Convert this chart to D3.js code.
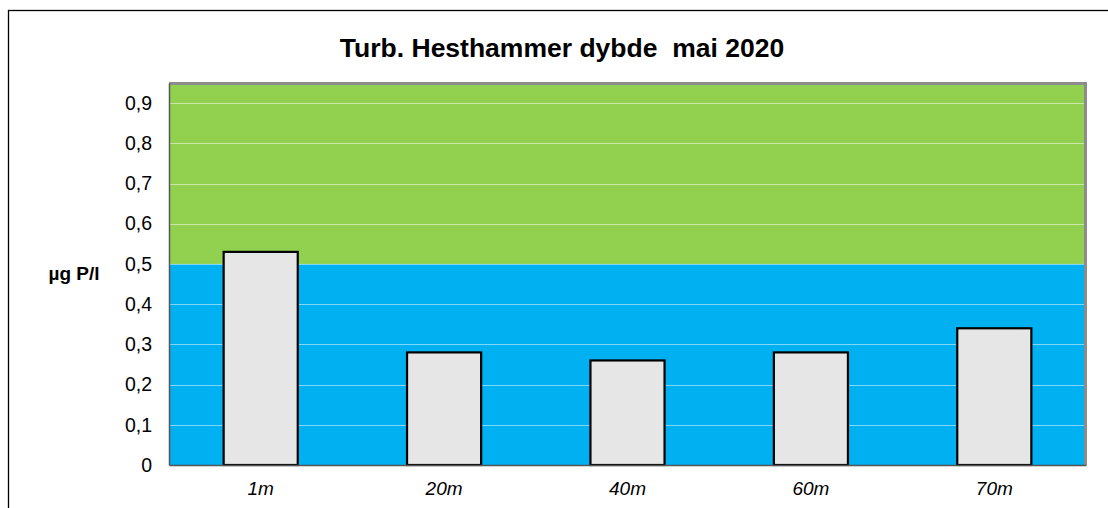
<!DOCTYPE html>
<html>
<head>
<meta charset="utf-8">
<script src="https://cdn.jsdelivr.net/npm/d3@7"></script>
<style>
  body { margin: 0; background: #fff; }
  text { font-family: "Liberation Sans", Arial, sans-serif; }
</style>
</head>
<body>
<div id="chart"></div>
<script>
var depths = ["1m", "20m", "40m", "60m", "70m"];
var values = [0.53, 0.28, 0.26, 0.28, 0.34];
var yTicks = [0, 0.1, 0.2, 0.3, 0.4, 0.5, 0.6, 0.7, 0.8, 0.9];
// coloured background zones (lower, upper)
var zoneBreaks = [0, 0.5, 0.95];
var zoneColors = ["#00B0F0", "#92D050"];

var width = 1108, height = 508;
var margin = {top: 83, right: 22, bottom: 43, left: 169};
var plotW = width - margin.left - margin.right;
var plotH = height - margin.top - margin.bottom;

var svg = d3.select("#chart").append("svg")
    .attr("width", width)
    .attr("height", height);

// outer chart frame (runs off the right/bottom edge)
svg.append("rect")
    .attr("x", 8.5).attr("y", 10.5)
    .attr("width", width + 10).attr("height", height + 10)
    .attr("fill", "none")
    .attr("stroke", "#000")
    .attr("stroke-width", 1.3);

svg.append("text")
    .attr("x", 562)
    .attr("y", 57)
    .attr("text-anchor", "middle")
    .style("font-weight", "bold")
    .style("font-size", "26.5px")
    .style("white-space", "pre")
    .text("Turb. Hesthammer dybde  mai 2020");

var g = svg.append("g")
    .attr("transform", "translate(" + margin.left + "," + margin.top + ")");

var y = d3.scaleLinear().domain([0, 0.95]).range([plotH, 0]);
var x = d3.scaleBand().domain(depths).range([0, plotW])
    .paddingInner(0.596).paddingOuter(0.298);

// zones
g.selectAll(".zone")
    .data(zoneColors)
    .enter()
    .append("rect")
    .attr("class", "zone")
    .attr("x", 0)
    .attr("width", plotW)
    .attr("y", function(d, i){ return y(zoneBreaks[i + 1]); })
    .attr("height", function(d, i){ return y(zoneBreaks[i]) - y(zoneBreaks[i + 1]); })
    .attr("fill", function(d){ return d; });

// gridlines
g.selectAll(".grid")
    .data(yTicks.slice(1))
    .enter()
    .append("line")
    .attr("class", "grid")
    .attr("x1", 0).attr("x2", plotW)
    .attr("y1", function(d){ return Math.round(y(d)) + 0.5; })
    .attr("y2", function(d){ return Math.round(y(d)) + 0.5; })
    .attr("stroke", "#ffffff")
    .attr("stroke-opacity", 0.5)
    .attr("stroke-width", 1);

// top / right frame of plot area
g.append("path")
    .attr("d", "M0,0.5H" + (plotW - 0.5) + "V" + plotH)
    .attr("fill", "none")
    .attr("stroke", "#8c8c8c")
    .attr("stroke-width", 3);

// bars
g.selectAll(".bar")
    .data(values)
    .enter()
    .append("rect")
    .attr("class", "bar")
    .attr("x", function(d, i){ return x(depths[i]); })
    .attr("width", x.bandwidth())
    .attr("y", function(d){ return y(d); })
    .attr("height", function(d){ return plotH - y(d); })
    .attr("fill", "#E6E6E6")
    .attr("stroke", "#000")
    .attr("stroke-width", 2.2);

// axes
var yAxis = g.append("g")
    .call(d3.axisLeft(y).tickValues(yTicks).tickSize(0).tickPadding(17)
        .tickFormat(function(d){ return d === 0 ? "0" : d3.format(".1f")(d).replace(".", ","); }));
yAxis.select(".domain").attr("stroke", "#555").attr("stroke-width", 1.5);
yAxis.selectAll("text").style("font-size", "19.5px").attr("fill", "#000");

var xAxis = g.append("g")
    .attr("transform", "translate(0," + plotH + ")")
    .call(d3.axisBottom(x).tickSize(0).tickPadding(17));
xAxis.select(".domain").attr("stroke", "#555").attr("stroke-width", 1.5);
xAxis.selectAll("text").style("font-size", "19px").style("font-style", "italic").attr("fill", "#000");

svg.append("text")
    .attr("x", 74)
    .attr("y", 280)
    .attr("text-anchor", "middle")
    .style("font-weight", "bold")
    .style("font-size", "19px")
    .text("µg P/l");
</script>
</body>
</html>
